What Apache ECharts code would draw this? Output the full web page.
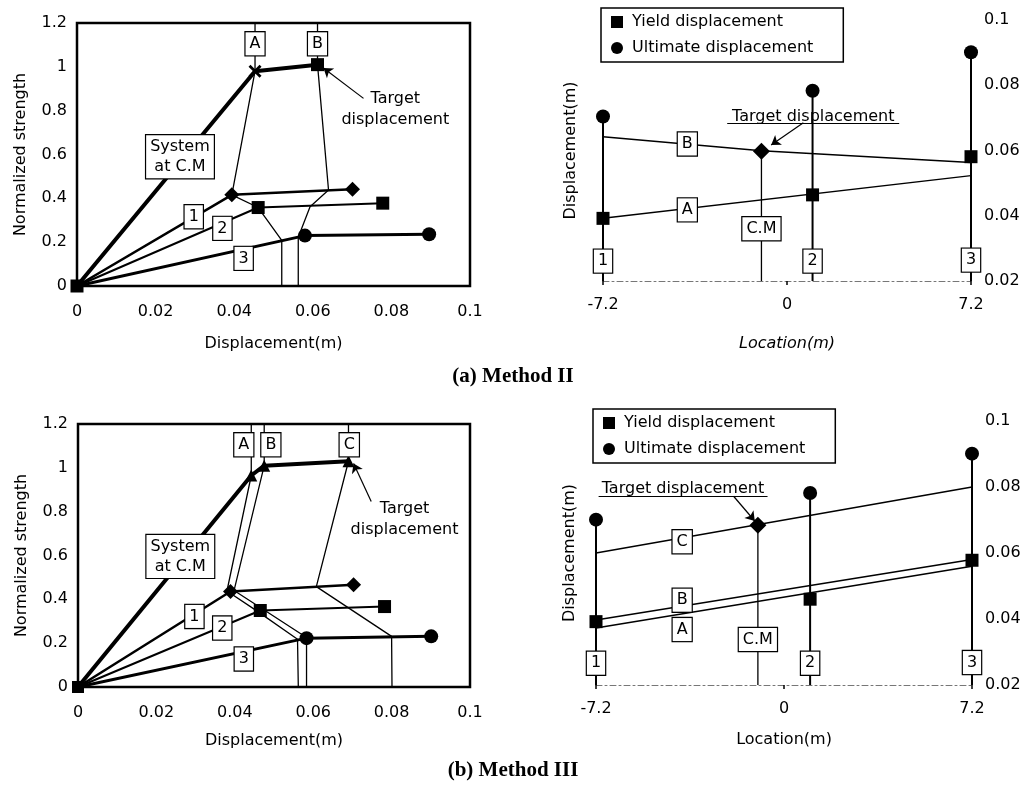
<!DOCTYPE html>
<html>
<head>
<meta charset="utf-8">
<script src="https://cdn.jsdelivr.net/npm/echarts@6/dist/echarts.min.js"></script>
<style>
  html, body { margin: 0; padding: 0; background: #fff; }
  #chart { width: 1026px; height: 789px; }
</style>
</head>
<body>
<div id="chart"></div>
<script>
// (a) Method II - capacity curves, [displacement, normalized strength]
const sysII = [[0, 0], [0.0453, 0.98], [0.0612, 1.01]]
const el1II = [[0, 0], [0.0394, 0.416], [0.0701, 0.441]]
const el2II = [[0, 0], [0.0461, 0.358], [0.0778, 0.378]]
const el3II = [[0, 0], [0.058, 0.23], [0.0896, 0.236]]
const pathAII = [[0.0453, 1.2], [0.0453, 0.98], [0.0394, 0.416], [0.0461, 0.358], [0.0521, 0.208], [0.0521, 0]]
const pathBII = [[0.0612, 1.2], [0.0612, 1.01], [0.064, 0.438], [0.0593, 0.362], [0.0563, 0.222], [0.0563, 0]]

// (b) Method III
const sysIII = [[0, 0], [0.0442, 0.965], [0.0475, 1.01], [0.069, 1.03]]
const el1III = [[0, 0], [0.0389, 0.436], [0.0703, 0.466]]
const el2III = [[0, 0], [0.0465, 0.349], [0.0782, 0.367]]
const el3III = [[0, 0], [0.0583, 0.223], [0.0901, 0.231]]
const pathAIII = [[0.0442, 1.2], [0.0442, 0.965], [0.038, 0.438], [0.0458, 0.345], [0.056, 0.218], [0.0562, 0]]
const pathBIII = [[0.0475, 1.2], [0.0475, 1.01], [0.0398, 0.44], [0.0472, 0.355], [0.0583, 0.226], [0.0583, 0]]
const pathCIII = [[0.069, 1.2], [0.069, 1.03], [0.0608, 0.458], [0.08, 0.231], [0.0801, 0]]

// displacement profiles along the plan
const locations = [-7.2, 1.0, 7.2]
const cmLoc = -1.0
const yieldII = [0.0392, 0.0464, 0.0581]
const ultII = [0.0704, 0.0783, 0.0901]
const targetII = 0.0598
const lineAII = [[-7.2, 0.0392], [7.2, 0.0523]]
const lineBII = [[-7.2, 0.0642], [-1.0, 0.0599], [7.2, 0.0563]]

const yieldIII = [0.0392, 0.046, 0.0578]
const ultIII = [0.0701, 0.0782, 0.0901]
const targetIII = 0.0684
const lineAIII = [[-7.2, 0.0373], [7.2, 0.056]]
const lineBIII = [[-7.2, 0.0397], [7.2, 0.058]]
const lineCIII = [[-7.2, 0.06], [7.2, 0.08]]

// boxed tags [text, x, y]
const tagsTL = [['A', 0.0453, 1.105], ['B', 0.0612, 1.105], ['1', 0.0297, 0.316], ['2', 0.037, 0.263], ['3', 0.0424, 0.126], ['System\nat C.M', 0.0262, 0.59]]
const tagsBL = [['A', 0.0423, 1.105], ['B', 0.0492, 1.105], ['C', 0.0692, 1.105], ['1', 0.0297, 0.322], ['2', 0.0368, 0.269], ['3', 0.0423, 0.128], ['System\nat C.M', 0.0261, 0.596]]
const tagsTR = [['1', -7.2, 0.0261], ['2', 1.0, 0.0261], ['3', 7.2, 0.0264], ['C.M', -1.0, 0.036], ['A', -3.9, 0.0418], ['B', -3.9, 0.062]]
const tagsBR = [['1', -7.2, 0.0266], ['2', 1.0, 0.0266], ['3', 7.2, 0.0268], ['C.M', -1.0, 0.0338], ['A', -3.9, 0.0368], ['B', -3.9, 0.0457], ['C', -3.9, 0.0634]]

const F = 'DejaVu Sans'
const crossPath = 'path://M0,1.5L1.5,0L5,3.5L8.5,0L10,1.5L6.5,5L10,8.5L8.5,10L5,6.5L1.5,10L0,8.5L3.5,5Z'

const chart = echarts.init(document.getElementById('chart'))

const withSymbols = (data, syms, size) =>
  data.map((p, i) => ({ value: p, symbol: syms[i] || 'none', symbolSize: size }))

const curve = (data, xi, yi, width, syms, size) => ({
  type: 'line', xAxisIndex: xi, yAxisIndex: yi,
  data: withSymbols(data, syms || [], size || 0),
  lineStyle: { color: '#000', width: width },
  itemStyle: { color: '#000', opacity: 1 },
  showAllSymbol: true, z: 3, silent: true
})

const txt = { color: '#000', fontFamily: F, fontSize: 16, opacity: 1, textBorderWidth: 0 }

const tagSeries = (tags, xi, yi) => ({
  type: 'scatter', xAxisIndex: xi, yAxisIndex: yi, symbolSize: 1, z: 10, silent: true,
  itemStyle: { color: 'rgba(255,255,255,0)', opacity: 1 },
  data: tags.map(t => ({ name: t[0], value: [t[1], t[2]] })),
  label: Object.assign({
    show: true, position: 'inside', formatter: '{b}',
    lineHeight: 20, backgroundColor: '#fff', borderColor: '#000', borderWidth: 1.2, padding: [2, 4, 1, 4]
  }, txt)
})

const arrow = (from, to) => [{ coord: from, symbol: 'none' }, { coord: to, symbol: 'arrow' }]
const plain = (from, to) => [{ coord: from, symbol: 'none' }, { coord: to, symbol: 'none' }]

const noteSeries = (pos, text, xi, yi, lines) => ({
  type: 'scatter', xAxisIndex: xi, yAxisIndex: yi, symbolSize: 1, z: 10, silent: true,
  itemStyle: { color: 'rgba(255,255,255,0)', opacity: 1 },
  data: [{ name: text, value: pos }],
  label: Object.assign({ show: true, position: 'inside', formatter: '{b}', lineHeight: 21 }, txt),
  markLine: {
    silent: true, symbolSize: 9, animation: false,
    lineStyle: { color: '#000', width: 1.2, type: 'solid', opacity: 1 },
    label: { show: false },
    data: lines
  }
})

// vertical member lines on the plan view
const verticals = (ult, target, xi, yi) => {
  const out = locations.map((x, i) => ({
    type: 'line', xAxisIndex: xi, yAxisIndex: yi, symbol: 'none', silent: true, z: 2,
    lineStyle: { color: '#000', width: 2 },
    data: [[x, 0.02], [x, ult[i]]]
  }))
  out.push({
    type: 'line', xAxisIndex: xi, yAxisIndex: yi, symbol: 'none', silent: true, z: 2,
    lineStyle: { color: '#000', width: 1.3 },
    data: [[cmLoc, 0.02], [cmLoc, target]]
  })
  return out
}

const profile = (data, xi, yi) => ({
  type: 'line', xAxisIndex: xi, yAxisIndex: yi, symbol: 'none', silent: true, z: 3,
  lineStyle: { color: '#000', width: 1.5 }, data: data
})

const points = (name, vals, sym, size, xi, yi) => ({
  name: name, type: 'scatter', xAxisIndex: xi, yAxisIndex: yi, symbol: sym, symbolSize: size, z: 5,
  itemStyle: { color: '#000', opacity: 1 },
  data: locations.map((x, i) => [x, vals[i]])
})

const target = (val, xi, yi) => ({
  type: 'scatter', xAxisIndex: xi, yAxisIndex: yi, symbol: 'diamond', symbolSize: 17, z: 5, silent: true,
  itemStyle: { color: '#000', opacity: 1 }, data: [[cmLoc, val]]
})

const axisFont = { color: '#000', fontFamily: F, fontSize: 16 }

const leftX = (gi, gap) => ({
  gridIndex: gi, type: 'value', min: 0, max: 0.1, interval: 0.02,
  axisLine: { show: false }, axisTick: { show: false }, splitLine: { show: false },
  axisLabel: Object.assign({ margin: 18 }, axisFont),
  name: 'Displacement(m)', nameLocation: 'middle', nameGap: gap, nameTextStyle: axisFont
})
const leftY = (gi) => ({
  gridIndex: gi, type: 'value', min: 0, max: 1.2, interval: 0.2,
  axisLine: { show: false }, axisTick: { show: false }, splitLine: { show: false },
  axisLabel: Object.assign({ margin: 10 }, axisFont),
  name: 'Normalized strength', nameLocation: 'middle', nameGap: 48, nameRotate: 90, nameTextStyle: axisFont
})
const planX = (gi, gap, italic) => ({
  gridIndex: gi, type: 'value', min: -7.2, max: 7.2, interval: 7.2,
  axisLine: { show: true, onZero: false, lineStyle: { color: '#777', width: 1, type: [6, 3, 2, 3] } },
  axisTick: { show: true, length: 4, lineStyle: { color: '#000', width: 1.5 } },
  splitLine: { show: false },
  axisLabel: Object.assign({ margin: 16 }, axisFont),
  name: 'Location(m)', nameLocation: 'middle', nameGap: gap,
  nameTextStyle: Object.assign({ fontStyle: italic ? 'italic' : 'normal' }, axisFont)
})
const planYName = (gi, gap) => ({
  gridIndex: gi, type: 'value', min: 0.02, max: 0.1, interval: 0.02, position: 'left',
  axisLine: { show: false }, axisTick: { show: false }, splitLine: { show: false }, axisLabel: { show: false },
  name: 'Displacement(m)', nameLocation: 'middle', nameGap: gap, nameRotate: 90, nameTextStyle: axisFont
})
const planY = (gi) => ({
  gridIndex: gi, type: 'value', min: 0.02, max: 0.1, interval: 0.02, position: 'right',
  axisLine: { show: false }, axisTick: { show: false }, splitLine: { show: false },
  axisLabel: Object.assign({ margin: 13 }, axisFont)
})

const legendBox = (left, top) => ({
  left: left, top: top, orient: 'vertical', selectedMode: false,
  data: [{ name: 'Yield displacement', icon: 'rect' }, { name: 'Ultimate displacement', icon: 'circle' }],
  itemWidth: 12, itemHeight: 12, itemGap: 10,
  textStyle: { color: '#000', fontFamily: F, fontSize: 16, padding: [0, 0, 0, 4] },
  borderColor: '#000', borderWidth: 1.5, padding: [6, 30, 6, 10], backgroundColor: '#fff'
})

chart.setOption({
  animation: false,
  backgroundColor: '#fff',
  grid: [
    { left: 77, top: 23, width: 393, height: 263, show: true, borderColor: '#000', borderWidth: 2.5 },
    { left: 603, top: 20, width: 368, height: 261 },
    { left: 78, top: 424, width: 392, height: 263, show: true, borderColor: '#000', borderWidth: 2.5 },
    { left: 596, top: 421, width: 376, height: 264 }
  ],
  xAxis: [leftX(0, 50), planX(1, 55, true), leftX(2, 46), planX(3, 47, false)],
  yAxis: [leftY(0), planYName(1, 24), planY(1), leftY(2), planYName(3, 18), planY(3)],
  legend: [legendBox(601, 8), legendBox(593, 409)],
  graphic: [
    { type: 'text', left: 'center', top: 366, style: { text: '(a) Method II', font: 'bold 21px "Liberation Serif"', fill: '#000' } },
    { type: 'text', left: 'center', top: 760, style: { text: '(b) Method III', font: 'bold 21px "Liberation Serif"', fill: '#000' } }
  ],
  series: [
    // (a) capacity curves
    curve(pathAII, 0, 0, 1.3),
    curve(pathBII, 0, 0, 1.3),
    curve(el1II, 0, 0, 2.5, ['none', 'diamond', 'diamond'], 15),
    curve(el2II, 0, 0, 2, ['none', 'rect', 'rect'], 13),
    curve(el3II, 0, 0, 3, ['none', 'circle', 'circle'], 14),
    curve(sysII, 0, 0, 4, ['rect', crossPath, 'rect'], 13),
    tagSeries(tagsTL, 0, 0),
    noteSeries([0.081, 0.805], 'Target\ndisplacement', 0, 0, [arrow([0.0729, 0.856], [0.0627, 0.995])]),

    // (a) plan profile
    ...verticals(ultII, targetII, 1, 2),
    profile(lineAII, 1, 2),
    profile(lineBII, 1, 2),
    points('Yield displacement', yieldII, 'rect', 13, 1, 2),
    points('Ultimate displacement', ultII, 'circle', 14, 1, 2),
    target(targetII, 1, 2),
    tagSeries(tagsTR, 1, 2),
    noteSeries([1.03, 0.0704], 'Target displacement', 1, 2, [
      plain([-2.34, 0.0683], [4.39, 0.0683]),
      arrow([0.64, 0.0685], [-0.62, 0.0617])
    ]),

    // (b) capacity curves
    curve(pathAIII, 2, 3, 1.3),
    curve(pathBIII, 2, 3, 1.3),
    curve(pathCIII, 2, 3, 1.3),
    curve(el1III, 2, 3, 2.5, ['none', 'diamond', 'diamond'], 15),
    curve(el2III, 2, 3, 2, ['none', 'rect', 'rect'], 13),
    curve(el3III, 2, 3, 3, ['none', 'circle', 'circle'], 14),
    curve(sysIII, 2, 3, 4, ['rect', 'triangle', 'triangle', 'triangle'], 12),
    tagSeries(tagsBL, 2, 3),
    noteSeries([0.0833, 0.765], 'Target\ndisplacement', 2, 3, [arrow([0.0748, 0.846], [0.0703, 1.02])]),

    // (b) plan profile
    ...verticals(ultIII, targetIII, 3, 5),
    profile(lineAIII, 3, 5),
    profile(lineBIII, 3, 5),
    profile(lineCIII, 3, 5),
    points('Yield displacement', yieldIII, 'rect', 13, 3, 5),
    points('Ultimate displacement', ultIII, 'circle', 14, 3, 5),
    target(targetIII, 3, 5),
    tagSeries(tagsBR, 3, 5),
    noteSeries([-3.87, 0.0795], 'Target displacement', 3, 5, [
      plain([-7.1, 0.0772], [-0.63, 0.0772]),
      arrow([-1.93, 0.0772], [-1.12, 0.0697])
    ])
  ]
})
</script>
</body>
</html>
